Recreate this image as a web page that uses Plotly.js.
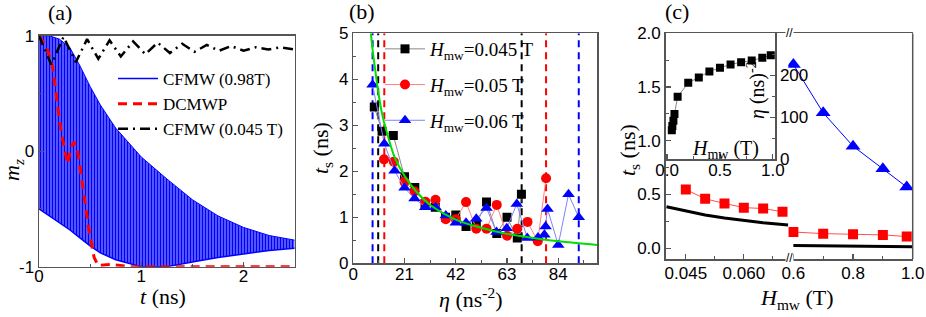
<!DOCTYPE html>
<html><head><meta charset="utf-8">
<script src="https://cdn.plot.ly/plotly-3.0.1.min.js"></script>
<style>body{margin:0;background:#fff}#chart{width:926px;height:317px}</style>
</head><body><div id="chart"></div>
<script>
// ---------------- Panel (a): m_z vs t ----------------
const tEnv      = [0, 0.1, 0.2, 0.3, 0.4, 0.5, 0.6, 0.75, 1.0, 1.25, 1.5, 1.75, 2.0, 2.25, 2.5];
const blueUpper = [1.0, 1.0, 0.97, 0.9, 0.74, 0.56, 0.4, 0.2, -0.05, -0.24, -0.42, -0.56, -0.66, -0.73, -0.77];
const blueLower = [-0.5, -0.56, -0.62, -0.68, -0.75, -0.82, -0.88, -0.94, -1.0, -1.0, -0.96, -0.92, -0.89, -0.86, -0.84];
const redT  = [0, 0.075, 0.133, 0.172, 0.205, 0.244, 0.28, 0.312, 0.341, 0.373, 0.41, 0.448, 0.49, 0.539, 0.578, 0.7, 0.9, 2.5];
const redMz = [1.0, 0.9, 0.73, 0.47, 0.24, 0.04, -0.11, 0.03, 0.08, 0.03, -0.19, -0.43, -0.69, -0.92, -0.99, -0.98, -1.0, -1.0];
const blackT  = [0, 0.12, 0.24, 0.36, 0.47, 0.58, 0.69, 0.8, 0.92, 1.04, 1.16, 1.28, 1.4, 1.52, 1.64, 1.76, 1.88, 2.0, 2.12, 2.24, 2.36, 2.5];
const blackMz = [1.0, 0.75, 0.99, 0.77, 0.97, 0.8, 0.96, 0.82, 0.95, 0.84, 0.94, 0.85, 0.93, 0.86, 0.92, 0.87, 0.91, 0.87, 0.9, 0.88, 0.9, 0.88];
const legendA = ['CFMW (0.98T)', 'DCMWP', 'CFMW (0.045 T)'];

// ---------------- Panel (b): t_s vs eta ----------------
const eta045 = [8.6, 11.8, 16.4, 21, 25.2, 29.4, 33.6, 37.8, 42, 46.2, 50.4, 54.6, 58.8, 63, 67.2, 68.9];
const ts045  = [3.4, 2.87, 2.78, 1.88, 1.65, 1.3, 1.22, 1.0, 1.05, 0.8, 0.85, 1.33, 0.65, 1.0, 0.55, 1.5];
const eta050 = [12.6, 16.6, 21, 25.1, 29.5, 33.7, 37.9, 42, 46.2, 50.4, 54.6, 58.8, 63, 67.2, 71.4, 75.6, 79];
const ts050  = [2.26, 2.21, 1.77, 1.56, 1.34, 1.38, 0.96, 0.96, 1.33, 0.75, 0.75, 1.27, 0.6, 0.75, 0.9, 0.48, 1.85];
const eta060 = [7.9, 12.7, 16.9, 21, 25.1, 29.5, 33.7, 37.9, 42, 46.2, 50.4, 54.6, 58.7, 62.9, 67, 71.3, 75.7, 78.3, 78.8, 79.6, 84, 88.2, 92.4];
const ts060  = [3.88, 2.6, 2.01, 1.64, 1.41, 1.22, 1.22, 1.04, 0.88, 0.88, 0.97, 1.2, 0.68, 0.76, 1.29, 0.55, 0.56, 0.62, 0.8, 1.18, 0.4, 1.5, 1.0];
const fitEta = [7.2, 8, 9, 10, 12, 14, 17, 21, 26, 32, 42, 52, 63, 75, 84, 100];
const fitTs  = [5.0, 4.6, 4.2, 3.8, 3.2, 2.8, 2.3, 1.9, 1.55, 1.25, 0.95, 0.78, 0.64, 0.54, 0.48, 0.40];
const limits045 = [10.2, 69];
const limits050 = [12.7, 79];
const limits060 = [7.9, 92.4];
const legendB = ['0.045', '0.05', '0.06'];
const tsRangeB = [0, 5];

// ---------------- Panel (c): t_s vs H_mw (broken axis) + inset ----------------
const hLow       = [0.045, 0.05, 0.055, 0.06, 0.065, 0.07];
const tsRedLow   = [0.547, 0.46, 0.417, 0.378, 0.37, 0.34];
const hHigh      = [0.6, 0.7, 0.8, 0.9, 0.98];
const tsRedHigh  = [0.151, 0.136, 0.13, 0.124, 0.109];
const tsBlueHigh = [1.71, 1.26, 0.95, 0.74, 0.57];
const hTheoryLow   = [0.04, 0.045, 0.05, 0.055, 0.06, 0.065, 0.07, 0.0715];
const tsTheoryLow  = [0.387, 0.345, 0.31, 0.282, 0.258, 0.238, 0.221, 0.216];
const hTheoryHigh  = [0.6, 0.7, 0.8, 0.9, 1.0];
const tsTheoryHigh = [0.026, 0.022, 0.018, 0.015, 0.013];
const hInset   = [0.045, 0.05, 0.06, 0.07, 0.1, 0.2, 0.3, 0.4, 0.5, 0.6, 0.7, 0.8, 0.9, 0.98];
const etaInset = [69, 79, 92, 108, 149, 182, 195, 209, 218, 226, 231, 235, 242, 248];

// ---------------- helpers (layout only) ----------------
const W = 926, H = 317;
const fx = p => p / W, fy = p => 1 - p / H;
const SERIF = 'Liberation Serif, Times New Roman, serif';
const SANS = 'Liberation Sans, Arial, sans-serif';
const AX = '#555';
const tickFont = {family: SANS, size: 17, color: '#000'};
function axis(extra) {
  return Object.assign({
    showline: true, linecolor: AX, linewidth: 1.5, mirror: true,
    ticks: 'inside', ticklen: 5, tickwidth: 1.2, tickcolor: AX,
    showgrid: false, zeroline: false, tickfont: tickFont, fixedrange: true
  }, extra);
}
function minor(vals) { return {tickvals: vals, ticks: 'inside', ticklen: 3, tickwidth: 1, tickcolor: AX, showgrid: false}; }

const traces = [];
// Panel a
traces.push({x: tEnv, y: blueLower, xaxis: 'x', yaxis: 'y', mode: 'lines', name: legendA[0],
  line: {color: '#0000ff', width: 1.5}, legend: 'legend'});
traces.push({x: tEnv, y: blueUpper, xaxis: 'x', yaxis: 'y', mode: 'lines', showlegend: false,
  line: {color: '#0000ff', width: 1}, fill: 'tonexty', fillcolor: 'rgba(0,0,255,0.85)',
  fillpattern: {shape: '|', size: 3, solidity: 0.78, fgcolor: '#0000ff', bgcolor: '#ffffff'}});
traces.push({x: redT, y: redMz, xaxis: 'x', yaxis: 'y', mode: 'lines', name: legendA[1],
  line: {color: '#ff0000', width: 3, dash: '9px,6px'}, legend: 'legend'});
traces.push({x: blackT, y: blackMz, xaxis: 'x', yaxis: 'y', mode: 'lines', name: legendA[2],
  line: {color: '#000', width: 2.5, dash: '10px,5px,2px,5px'}, legend: 'legend'});

// Panel b vertical limits
function vlines(vals, color) {
  const xs = [], ys = [];
  vals.forEach(v => { xs.push(v, v, null); ys.push(tsRangeB[0], tsRangeB[1], null); });
  return {x: xs, y: ys, xaxis: 'x2', yaxis: 'y2', mode: 'lines', showlegend: false,
    line: {color: color, width: 2, dash: '7px,5px'}, hoverinfo: 'skip'};
}
traces.push(vlines(limits060, '#0000ff'));
traces.push(vlines(limits045, '#000'));
traces.push(vlines(limits050, '#ff0000'));
const hLabel = v => '<i>H</i><sub>mw</sub>=' + v + ' T';
traces.push({x: eta045, y: ts045, xaxis: 'x2', yaxis: 'y2', mode: 'lines+markers', name: hLabel(legendB[0]),
  line: {color: '#888', width: 1}, marker: {symbol: 'square', size: 9, color: '#000'}, legend: 'legend2', legendgroup: 'g1'});
traces.push({x: eta050, y: ts050, xaxis: 'x2', yaxis: 'y2', mode: 'lines+markers', name: hLabel(legendB[1]),
  line: {color: '#ff8080', width: 1}, marker: {symbol: 'circle', size: 10, color: '#ff0000'}, legend: 'legend2', legendgroup: 'g2'});
traces.push({x: eta060, y: ts060, xaxis: 'x2', yaxis: 'y2', mode: 'lines+markers', name: hLabel(legendB[2]),
  line: {color: '#8080ff', width: 1}, marker: {symbol: 'triangle-up', size: 11, color: '#0000ff'}, legend: 'legend2', legendgroup: 'g3'});
traces.push({x: fitEta, y: fitTs, xaxis: 'x2', yaxis: 'y2', mode: 'lines', showlegend: false,
  line: {color: '#00e000', width: 2, shape: 'spline'}});

// Panel c
traces.push({x: hTheoryLow, y: tsTheoryLow, xaxis: 'x3', yaxis: 'y3', mode: 'lines', showlegend: false,
  line: {color: '#000', width: 3}});
traces.push({x: hTheoryHigh, y: tsTheoryHigh, xaxis: 'x4', yaxis: 'y3', mode: 'lines', showlegend: false,
  line: {color: '#000', width: 3}});
traces.push({x: hLow, y: tsRedLow, xaxis: 'x3', yaxis: 'y3', mode: 'lines+markers', showlegend: false,
  line: {color: '#ff5050', width: 1}, marker: {symbol: 'square', size: 10, color: '#ff0000'}});
traces.push({x: hHigh, y: tsRedHigh, xaxis: 'x4', yaxis: 'y3', mode: 'lines+markers', showlegend: false,
  line: {color: '#ff5050', width: 1}, marker: {symbol: 'square', size: 10, color: '#ff0000'}});
traces.push({x: hHigh, y: tsBlueHigh, xaxis: 'x4', yaxis: 'y3', mode: 'lines+markers', showlegend: false,
  line: {color: '#0000ff', width: 1}, marker: {symbol: 'triangle-up', size: 13, color: '#0000ff'}});
traces.push({x: hInset, y: etaInset, xaxis: 'x5', yaxis: 'y5', mode: 'lines+markers', showlegend: false,
  line: {color: '#888', width: 1}, marker: {symbol: 'square', size: 8, color: '#000'}});

function ann(text, x, y, size, extra) {
  return Object.assign({text: text, x: fx(x), y: fy(y), xref: 'paper', yref: 'paper', showarrow: false,
    xanchor: 'center', yanchor: 'middle', font: {family: SERIF, size: size, color: '#000'}}, extra || {});
}

const layout = {
  width: W, height: H, margin: {l: 0, r: 0, t: 0, b: 0},
  paper_bgcolor: '#fff', plot_bgcolor: 'rgba(0,0,0,0)',
  font: {family: SANS, color: '#000'},
  xaxis: axis({domain: [fx(39), fx(294.7)], range: [0, 2.5], anchor: 'y', tickvals: [0, 1, 2], minor: minor([0.5, 1.5]), ticklabelstandoff: -7}),
  yaxis: axis({domain: [fy(266.7), fy(35.7)], range: [-1, 1], anchor: 'x', tickvals: [-1, 0, 1], ticktext: ['-1', '0', '1'], minor: minor([-0.5, 0.5])}),
  xaxis2: axis({domain: [fx(353.3), fx(597.3)], range: [0, 100], anchor: 'y2', tickvals: [0, 21, 42, 63, 84], minor: minor([10.5, 31.5, 52.5, 73.5, 94.5]), ticklabelstandoff: -5}),
  yaxis2: axis({domain: [fy(263.3), fy(33.3)], range: tsRangeB, anchor: 'x2', tickvals: [0, 1, 2, 3, 4, 5], minor: minor([0.5, 1.5, 2.5, 3.5, 4.5])}),
  xaxis3: axis({domain: [fx(665.7), fx(788.3)], range: [0.0398, 0.0715], anchor: 'y3', tickvals: [0.045, 0.06], ticktext: ['0.045', '0.060'], minor: minor([0.0525, 0.0675]), ticklabelstandoff: -2}),
  xaxis4: axis({domain: [fx(788.3), fx(912.7)], range: [0.583, 1.0], anchor: 'y3', tickvals: [0.6, 0.8, 1.0], ticktext: ['0.6', '0.8', '1.0'], minor: minor([0.7, 0.9]), ticklabelstandoff: -2}),
  yaxis3: axis({domain: [fy(259), fy(33.3)], range: [-0.1, 2.0], anchor: 'x3', mirror: false, tickvals: [0, 0.5, 1, 1.5, 2], ticktext: ['0.0', '0.5', '1.0', '1.5', '2.0'], minor: minor([0.25, 0.75, 1.25, 1.75])}),
  xaxis5: axis({domain: [fx(666), fx(775)], range: [-0.01, 1.02], anchor: 'y5', tickvals: [0, 0.5, 1], ticktext: ['0.0', '0.5', '1.0'], minor: minor([0.25, 0.75]), ticklabelstandoff: -5}),
  yaxis5: axis({domain: [fy(159.3), fy(33.3)], range: [0, 300], anchor: 'x5', side: 'right', tickvals: [0, 100, 200], minor: minor([50, 150, 250])}),
  legend: {x: fx(113), y: fy(61), xanchor: 'left', yanchor: 'top', bgcolor: 'rgba(0,0,0,0)', borderwidth: 0,
    font: {family: SERIF, size: 17, color: '#000'}, tracegroupgap: 0, itemwidth: 40, traceorder: 'normal'},
  legend2: {x: fx(380), y: fy(30), xanchor: 'left', yanchor: 'top', bgcolor: 'rgba(0,0,0,0)', borderwidth: 0,
    font: {family: SERIF, size: 19, color: '#000'}, tracegroupgap: 8, itemwidth: 40, traceorder: 'grouped'},
  shapes: [
    {type: 'line', xref: 'paper', yref: 'paper', x0: fx(912.7), x1: fx(912.7), y0: fy(259), y1: fy(33.3), line: {color: AX, width: 1.5}}
  ],
  annotations: [
    ann('(a)', 60, 13, 22), ann('(b)', 362, 12, 22), ann('(c)', 677, 12, 22),
    ann('<i>t</i> (ns)', 163, 296, 22),
    ann('<i>m</i><sub><i>z</i></sub>', 13, 170, 22, {textangle: -90}),
    ann('<i>η</i> (ns<sup>-2</sup>)', 470, 298, 22),
    ann('<i>t</i><sub>s</sub> (ns)', 322, 148, 22, {textangle: -90}),
    ann('<i>H</i><sub>mw</sub> (T)', 797, 299, 22),
    ann('<i>t</i><sub>s</sub> (ns)', 629, 150, 22, {textangle: -90}),
    ann('<i>η</i> (ns)<sup>-2</sup>', 756, 90, 20, {textangle: -90}),
    ann('<i>H</i><sub>mw</sub> (T)', 725, 149, 20),
    ann('//', 789, 33, 12, {font: {family: SANS, size: 12, color: '#000'}, bgcolor: '#fff', borderpad: 0}),
    ann('//', 789, 258, 12, {font: {family: SANS, size: 12, color: '#000'}, bgcolor: '#fff', borderpad: 0})
  ]
};

Plotly.newPlot('chart', traces, layout, {staticPlot: true, displayModeBar: false});
</script>
</body></html>
